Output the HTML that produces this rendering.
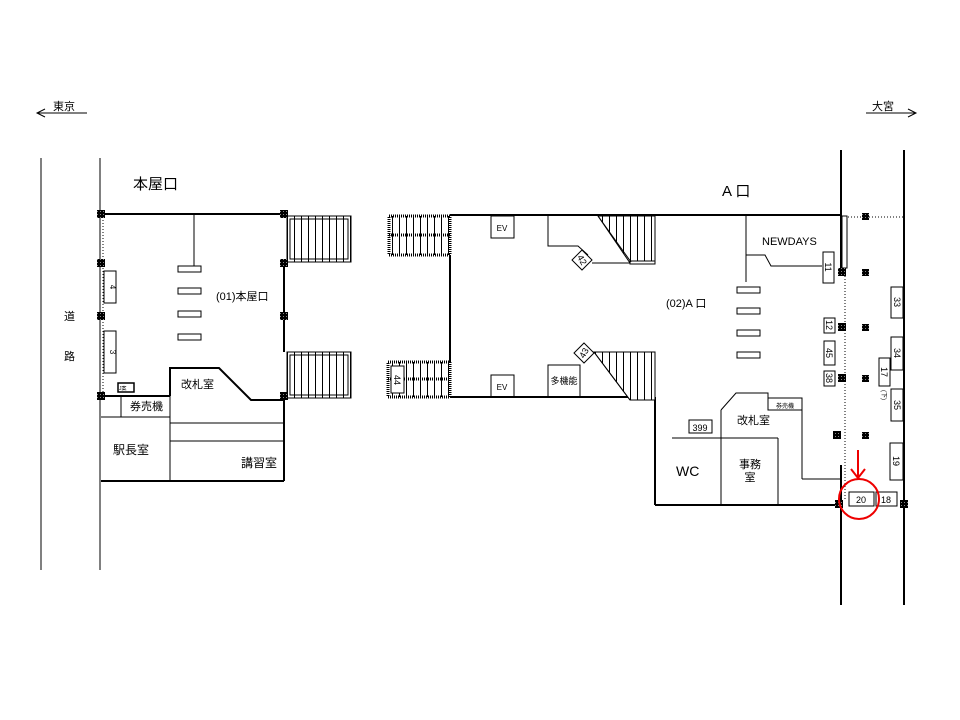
<!DOCTYPE html><html><head><meta charset="utf-8"><style>body{margin:0;background:#fff}svg{display:block}text{font-family:"Liberation Sans","Noto Sans CJK JP",sans-serif;fill:#000}</style></head><body>
<svg width="960" height="720" viewBox="0 0 960 720" xmlns="http://www.w3.org/2000/svg">
<defs>
<pattern id="st" width="7" height="10" patternUnits="userSpaceOnUse"><rect width="7" height="10" fill="#fff"/><line x1="0.5" y1="0" x2="0.5" y2="10" stroke="#000" stroke-width="1"/></pattern>
<pattern id="pl" width="3" height="3" patternUnits="userSpaceOnUse"><rect width="3" height="3" fill="#000"/><rect x="1" y="1" width="1" height="1" fill="#888"/></pattern>
</defs>
<g stroke="#000" fill="none" stroke-width="1">
<!-- direction arrows -->
<line x1="37" y1="113" x2="87" y2="113"/><polyline points="45,109 37,113 45,117"/>
<line x1="866" y1="113" x2="916" y2="113"/><polyline points="908,109 916,113 908,117"/>
<!-- road lines -->
<line x1="41" y1="158" x2="41" y2="570"/><line x1="100" y1="158" x2="100" y2="570"/>
<line x1="103" y1="214" x2="103" y2="396" stroke-dasharray="1,2"/>
<!-- left building -->
<g stroke-width="2">
<line x1="101" y1="214" x2="284" y2="214"/>
<line x1="284" y1="263" x2="284" y2="352"/>
<line x1="101" y1="396" x2="170" y2="396"/>
<polyline points="170,396 170,368 219,368 251,400 284,400"/>
<line x1="284" y1="400" x2="284" y2="481"/>
<line x1="101" y1="481" x2="284" y2="481"/>
</g>
<line x1="194" y1="214" x2="194" y2="266"/>
<line x1="101" y1="417" x2="170" y2="417"/><line x1="121" y1="396" x2="121" y2="417"/>
<line x1="170" y1="396" x2="170" y2="481"/>
<line x1="170" y1="423" x2="284" y2="423"/><line x1="170" y1="441" x2="284" y2="441"/>
<rect x="178" y="266" width="23" height="6"/><rect x="178" y="288" width="23" height="6"/><rect x="178" y="311" width="23" height="6"/><rect x="178" y="334" width="23" height="6"/>
<rect x="104" y="271" width="12" height="32"/><rect x="104" y="331" width="12" height="42"/>
<rect x="118" y="383" width="16" height="9" stroke-width="1.5"/>
<!-- left stairs -->
<rect x="287" y="216" width="64" height="46" fill="url(#st)"/><rect x="290" y="219" width="58" height="40" fill="none"/>
<rect x="287" y="352" width="64" height="46" fill="url(#st)"/><rect x="290" y="355" width="58" height="40" fill="none"/>
<!-- middle -->
<g stroke-width="2">
<line x1="450" y1="215" x2="840" y2="215"/>
<line x1="450" y1="255" x2="450" y2="362"/>
<line x1="450" y1="397" x2="655" y2="397"/>
<line x1="655" y1="397" x2="655" y2="505"/>
<line x1="655" y1="505" x2="840" y2="505"/>
</g>
<rect x="389" y="216" width="61" height="39" fill="url(#st)" stroke-width="3" stroke-dasharray="1,1"/>
<line x1="389" y1="235" x2="450" y2="235" stroke-width="3" stroke-dasharray="1,1"/>
<rect x="388" y="362" width="62" height="35" fill="url(#st)" stroke-width="3" stroke-dasharray="1,1"/>
<line x1="388" y1="379" x2="450" y2="379" stroke-width="3" stroke-dasharray="1,1"/>
<rect x="391" y="366" width="13" height="27" fill="#fff"/>
<rect x="491" y="216" width="23" height="22"/><rect x="491" y="375" width="23" height="22"/>
<polyline points="548,216 548,246 578,246 588,255"/>
<line x1="592" y1="263" x2="655" y2="263"/>
<polygon points="598,216 655,216 655,263 630,263" fill="url(#st)"/>
<rect x="630" y="261" width="25" height="3" fill="#fff"/>
<line x1="598" y1="216" x2="631" y2="262"/>
<polygon points="582,250 592,260 582,270 572,260" fill="#fff"/>
<rect x="548" y="365" width="32" height="32"/>
<polygon points="594,352 655,352 655,400 630,400" fill="url(#st)"/>
<line x1="594" y1="352" x2="630" y2="400"/>
<polygon points="584,343 594,353 584,363 574,353" fill="#fff"/>
<!-- right area -->
<polyline points="746,215 746,282"/>
<polyline points="746,255 765,255 771,266 822,266"/>
<line x1="841" y1="150" x2="841" y2="272" stroke-width="2"/>
<line x1="841" y1="465" x2="841" y2="605" stroke-width="2"/>
<line x1="904" y1="150" x2="904" y2="605" stroke-width="2"/>
<rect x="842" y="216" width="5" height="52"/>
<line x1="845" y1="270" x2="845" y2="500" stroke-dasharray="1,2"/>
<line x1="848" y1="217" x2="905" y2="217" stroke-dasharray="1,2"/>
<rect x="737" y="287" width="23" height="6"/><rect x="737" y="308" width="23" height="6"/><rect x="737" y="330" width="23" height="6"/><rect x="737" y="352" width="23" height="6"/>
<rect x="823" y="252" width="11" height="31"/>
<rect x="824" y="318" width="11" height="15"/><rect x="824" y="341" width="11" height="24"/><rect x="824" y="371" width="11" height="15"/>
<rect x="891" y="287" width="12" height="31"/><rect x="891" y="337" width="12" height="33"/><rect x="879" y="358" width="11" height="28"/>
<rect x="891" y="389" width="12" height="32"/><rect x="890" y="443" width="13" height="37"/>
<rect x="849" y="492" width="25" height="14"/><rect x="876" y="492" width="21" height="14"/>
<!-- offices -->
<polyline points="721,410 736,393 768,393 768,410"/>
<rect x="768" y="398" width="34" height="12"/>
<line x1="721" y1="410" x2="721" y2="505"/>
<line x1="802" y1="410" x2="802" y2="479"/>
<line x1="802" y1="479" x2="840" y2="479"/>
<line x1="672" y1="438" x2="778" y2="438"/><line x1="778" y1="438" x2="778" y2="505"/>
<rect x="689" y="420" width="23" height="13"/>
</g>
<!-- pillars -->
<g fill="url(#pl)">
<rect x="97" y="210" width="8" height="8"/><rect x="97" y="259" width="8" height="8"/><rect x="97" y="312" width="8" height="8"/><rect x="97" y="392" width="8" height="8"/>
<rect x="280" y="210" width="8" height="8"/><rect x="280" y="259" width="8" height="8"/><rect x="280" y="312" width="8" height="8"/><rect x="280" y="392" width="8" height="8"/>
<rect x="862" y="213" width="7" height="7"/><rect x="862" y="269" width="7" height="7"/><rect x="862" y="324" width="7" height="7"/><rect x="862" y="375" width="7" height="7"/><rect x="862" y="432" width="7" height="7"/>
<rect x="838" y="268" width="8" height="8"/><rect x="838" y="323" width="8" height="8"/><rect x="838" y="374" width="8" height="8"/><rect x="833" y="431" width="8" height="8"/>
<rect x="835" y="500" width="8" height="8"/><rect x="900" y="500" width="8" height="8"/>
</g>
<!-- red marker -->
<circle cx="859" cy="499" r="20" fill="none" stroke="#e00" stroke-width="2"/>
<line x1="858" y1="450" x2="858" y2="477" stroke="#e00" stroke-width="2"/>
<polyline points="851,469 858,478 865,469" fill="none" stroke="#e00" stroke-width="2"/>
<!-- text -->
<text x="53" y="110" font-size="11">東京</text>
<text x="872" y="110" font-size="11">大宮</text>
<text x="133" y="189" font-size="15">本屋口</text>
<text x="722" y="196" font-size="15">A 口</text>
<text x="64" y="320" font-size="11">道</text><text x="64" y="360" font-size="11">路</text>
<text x="216" y="300" font-size="11">(01)本屋口</text>
<text x="181" y="388" font-size="11">改札室</text>
<text x="130" y="410" font-size="11">券売機</text>
<text x="113" y="454" font-size="12">駅長室</text>
<text x="241" y="467" font-size="12">講習室</text>
<text x="119" y="390" font-size="5">J案</text>
<text x="110" y="287" font-size="8" transform="rotate(90 110 287)" text-anchor="middle">4</text>
<text x="110" y="352" font-size="8" transform="rotate(90 110 352)" text-anchor="middle">3</text>
<text x="502" y="231" font-size="8" text-anchor="middle">EV</text>
<text x="502" y="390" font-size="8" text-anchor="middle">EV</text>
<text x="564" y="384" font-size="9" text-anchor="middle">多機能</text>
<text x="397" y="380" font-size="9" transform="rotate(90 397 380)" text-anchor="middle" dy="3">44</text>
<text x="582" y="260" font-size="9" transform="rotate(60 582 260)" text-anchor="middle" dy="3">42</text>
<text x="584" y="353" font-size="9" transform="rotate(-60 584 353)" text-anchor="middle" dy="3">43</text>
<text x="762" y="245" font-size="11">NEWDAYS</text>
<text x="666" y="307" font-size="11">(02)A 口</text>
<text x="737" y="424" font-size="11">改札室</text>
<text x="785" y="408" font-size="6" text-anchor="middle">券売機</text>
<text x="700" y="431" font-size="9" text-anchor="middle">399</text>
<text x="676" y="476" font-size="14">WC</text>
<text x="750" y="468" font-size="11" text-anchor="middle">事務</text>
<text x="750" y="481" font-size="11" text-anchor="middle">室</text>
<g font-size="9" text-anchor="middle">
<text transform="translate(828,267) rotate(90)" dy="3">11</text>
<text transform="translate(829,325) rotate(90)" dy="3">12</text>
<text transform="translate(829,353) rotate(90)" dy="3">45</text>
<text transform="translate(829,378) rotate(90)" dy="3">38</text>
<text transform="translate(897,302) rotate(90)" dy="3">33</text>
<text transform="translate(897,353) rotate(90)" dy="3">34</text>
<text transform="translate(884,372) rotate(90)" dy="3">17</text>
<text transform="translate(897,405) rotate(90)" dy="3">35</text>
<text transform="translate(896,461) rotate(90)" dy="3">19</text>
<text transform="translate(884,395) rotate(90)" dy="2" font-size="6">(下)</text>
<text x="861" y="503">20</text>
<text x="886" y="503">18</text>
</g>
</svg>
</body></html>
